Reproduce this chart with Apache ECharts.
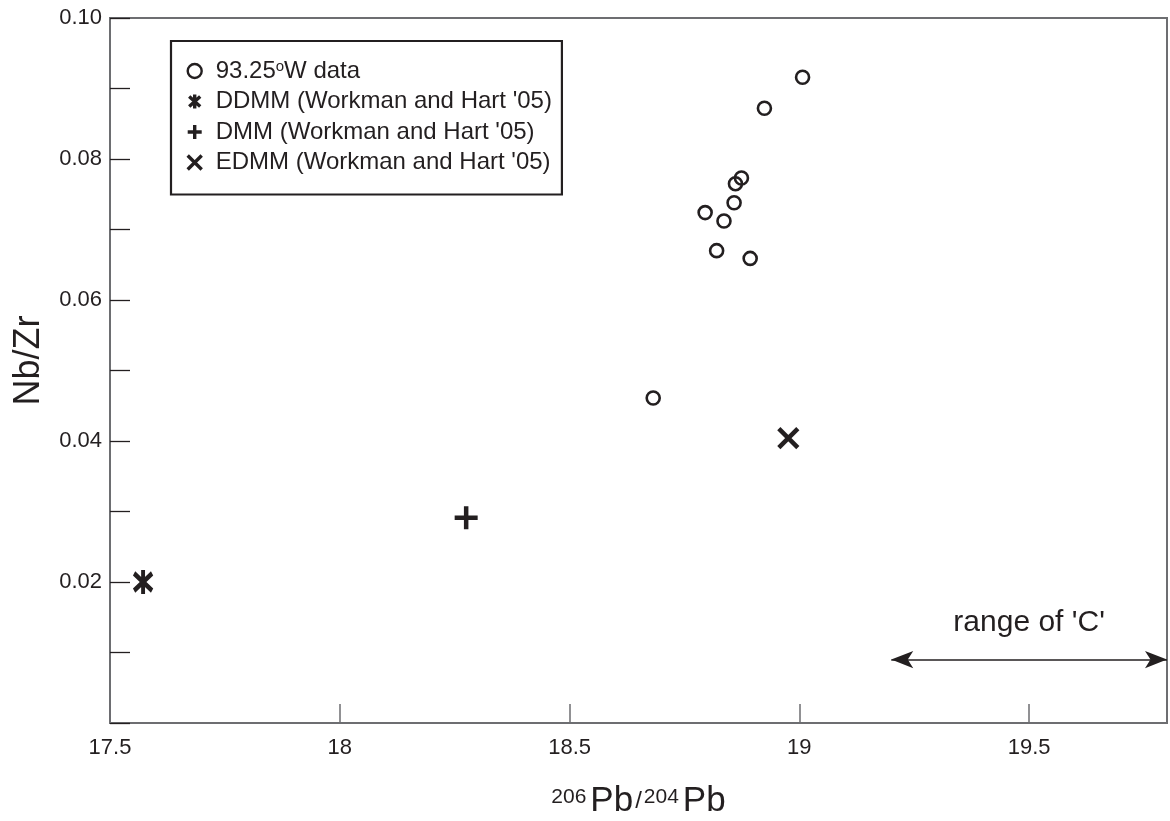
<!DOCTYPE html>
<html>
<head>
<meta charset="utf-8">
<script src="https://cdn.jsdelivr.net/npm/echarts@6/dist/echarts.min.js"></script>
<style>
  html, body { margin: 0; padding: 0; background: #ffffff; }
  #chart { width: 1170px; height: 821px; }
</style>
</head>
<body>
<div id="chart"></div>
<script>
// 206Pb/204Pb vs Nb/Zr for the 93.25°W samples and mantle end-members
const sampleName = '93.25°W data';
const samplePb = [19.007, 18.924, 18.874, 18.861, 18.858, 18.795, 18.836, 18.820, 18.893, 18.682];
const sampleNbZr = [0.0916, 0.0872, 0.0773, 0.0765, 0.0738, 0.0724, 0.0712, 0.0670, 0.0659, 0.0461];

const endMemberNames = ["DDMM (Workman and Hart '05)", "DMM (Workman and Hart '05)", "EDMM (Workman and Hart '05)"];
const endMemberPb = [17.572, 18.275, 18.976];
const endMemberNbZr = [0.0200, 0.0291, 0.0404];

// range of component 'C' along the Pb axis
const rangeCPb = [19.2, 19.8];
const rangeCNbZr = 0.009;
const rangeCLabel = "range of 'C'";

const xTicks = { min: 17.5, max: 19.8, step: 0.5 };
const yTicks = { min: 0, max: 0.1, step: 0.01 };

const ink = '#231f20';
const axisGrey = '#6d6e71';
const fontFamily = 'Liberation Sans, Arial, Helvetica, sans-serif';

const asteriskPath = 'path://M0,0L0,28M-11,4L11,24M-11,24L11,4';
const plusPath = 'path://M0,-12L0,12M-12,0L12,0';
const crossPath = 'path://M-10,-10L10,10M-10,10L10,-10';
const endMemberSymbols = [asteriskPath, plusPath, crossPath];
const endMemberSizes = [[18, 24], [23, 23], [19, 19]];

const chart = echarts.init(document.getElementById('chart'), null, { renderer: 'canvas' });

const sampleSeries = {
  name: sampleName,
  type: 'scatter',
  symbol: 'circle',
  symbolSize: 13,
  itemStyle: { color: 'rgba(0,0,0,0)', borderColor: ink, borderWidth: 2.6, opacity: 1 },
  data: samplePb.map((x, i) => [x, sampleNbZr[i]]),
  z: 3
};

const endMemberSeries = endMemberNames.map((name, i) => ({
  name: name,
  type: 'scatter',
  symbol: endMemberSymbols[i],
  symbolSize: endMemberSizes[i],
  itemStyle: { color: 'rgba(0,0,0,0)', borderColor: ink, borderWidth: 4.5, opacity: 1 },
  data: [[endMemberPb[i], endMemberNbZr[i]]],
  z: 3
}));

const rangeSeries = {
  name: 'rangeC',
  type: 'line',
  data: [],
  silent: true,
  markLine: {
    silent: true,
    animation: false,
    lineStyle: { color: ink, width: 1.6, type: 'solid' },
    label: {
      show: true,
      position: 'middle',
      distance: 22,
      formatter: rangeCLabel,
      color: ink,
      fontSize: 30,
      fontFamily: fontFamily
    },
    data: [[
      { coord: [rangeCPb[0], rangeCNbZr], symbol: 'arrow', symbolSize: [13, 22] },
      { coord: [rangeCPb[1], rangeCNbZr], symbol: 'arrow', symbolSize: [13, 22] }
    ]]
  }
};

const legendIcons = ['circle', asteriskPath, plusPath, crossPath];
const legendNames = [sampleName].concat(endMemberNames);

const option = {
  animation: false,
  backgroundColor: '#ffffff',
  textStyle: { fontFamily: fontFamily, color: ink },
  grid: {
    left: 110, top: 18, right: 3, bottom: 98,
    outerBoundsMode: 'none',
    containLabel: false,
    show: true, borderColor: axisGrey, borderWidth: 2, backgroundColor: 'transparent'
  },
  legend: {
    orient: 'vertical',
    left: 171, top: 41,
    padding: [18, 10, 20, 15],
    borderColor: ink,
    borderWidth: 2.2,
    backgroundColor: '#ffffff',
    itemWidth: 14,
    itemHeight: 14,
    itemGap: 6.5,
    selectedMode: false,
    textStyle: {
      fontSize: 24, color: ink, fontFamily: fontFamily, lineHeight: 24,
      padding: [0, 0, 0, 9],
      rich: {
        deg: { fontSize: 15, verticalAlign: 'top', lineHeight: 14, color: ink, fontFamily: fontFamily }
      }
    },
    formatter: function (name) {
      return name.replace('°', '{deg|o}');
    },
    data: legendNames.map((name, i) => ({
      name: name,
      icon: legendIcons[i],
      itemStyle: { color: 'rgba(0,0,0,0)', borderColor: ink, borderWidth: i === 0 ? 2.4 : 3.4 }
    }))
  },
  xAxis: {
    type: 'value',
    min: xTicks.min, max: xTicks.max, interval: xTicks.step,
    axisLine: { show: true, onZero: false, lineStyle: { color: axisGrey, width: 2 } },
    axisTick: { show: true, inside: true, length: 19, lineStyle: { color: axisGrey, width: 1.5 } },
    axisLabel: {
      showMaxLabel: false, showMinLabel: true,
      margin: 14, fontSize: 22, color: ink, fontFamily: fontFamily
    },
    splitLine: { show: false },
    name: '{s|206}{p|Pb}{sl|/}{s|204}{p|Pb}',
    nameLocation: 'middle',
    nameGap: 60,
    nameTextStyle: {
      rich: {
        s: { fontSize: 21, verticalAlign: 'top', lineHeight: 36, padding: [4, 4, 0, 0], color: ink, fontFamily: fontFamily },
        p: { fontSize: 35, lineHeight: 36, color: ink, fontFamily: fontFamily },
        sl: { fontSize: 24, lineHeight: 36, padding: [0, 2, 0, 2], color: ink, fontFamily: fontFamily }
      }
    }
  },
  yAxis: {
    type: 'value',
    min: yTicks.min, max: yTicks.max, interval: yTicks.step,
    axisLine: { show: true, onZero: false, lineStyle: { color: axisGrey, width: 2 } },
    axisTick: { show: true, inside: true, length: 20, lineStyle: { color: ink, width: 1.3 } },
    axisLabel: {
      margin: 8, fontSize: 22, color: ink, fontFamily: fontFamily,
      formatter: function (v) {
        const k = Math.round(v * 100);
        return (k > 0 && k % 2 === 0) ? v.toFixed(2) : '';
      }
    },
    splitLine: { show: false },
    name: 'Nb/Zr',
    nameLocation: 'middle',
    nameGap: 63,
    nameTextStyle: { fontSize: 36, color: ink, fontFamily: fontFamily, padding: [0, 0, 0, 20] }
  },
  series: [sampleSeries].concat(endMemberSeries, [rangeSeries])
};

chart.setOption(option);
</script>
</body>
</html>
